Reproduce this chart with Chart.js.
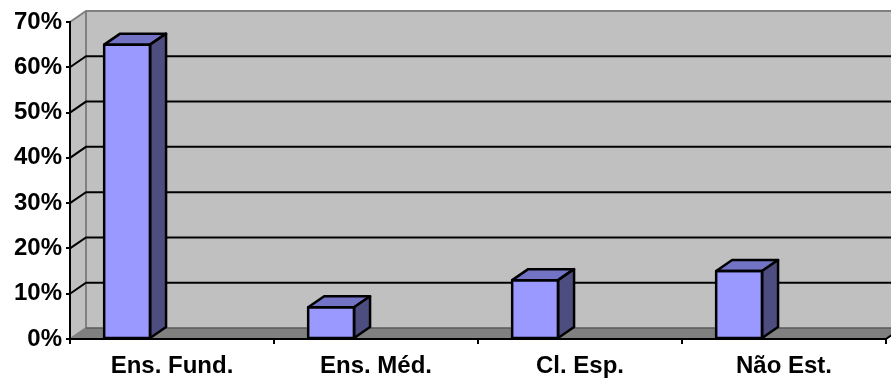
<!DOCTYPE html>
<html>
<head>
<meta charset="utf-8">
<script src="https://cdn.jsdelivr.net/npm/chart.js@4/dist/chart.umd.min.js"></script>
<style>
  html, body { margin: 0; padding: 0; background: #fff; }
  #wrap { width: 891px; height: 379px; position: relative; }
</style>
</head>
<body>
<div id="wrap"><canvas id="c"></canvas></div>
<script>
// Escolaridade – percentual por categoria
const categories = ['Ens. Fund.', 'Ens. Méd.', 'Cl. Esp.', 'Não Est.'];
const percentages = [65, 7, 13, 15];
const yMax = 70;
const yStep = 10;

const FONT = 'Arial, "Liberation Sans", sans-serif';
const DEPTH_X = 16;   // oblique depth of the 3D box
const DEPTH_Y = -11;
const BAR_SHIFT = 0.22; // bars sit left of category centre (fraction of category width)

const colors = {
  wall: '#C0C0C0',
  floor: '#808080',
  edge: '#808080',
  front: '#9999FF',
  top: '#7373C6',
  side: '#4D4D80'
};

const walls3d = {
  id: 'walls3d',
  beforeDraw(chart) {
    const { ctx, chartArea: a, scales: { y } } = chart;
    const L = a.left, R = a.right, T = a.top, B = a.bottom;
    ctx.save();
    // back wall
    ctx.fillStyle = colors.wall;
    ctx.fillRect(L + DEPTH_X, T + DEPTH_Y, R - L + 20, B - T);
    // left side wall
    ctx.beginPath();
    ctx.moveTo(L, B); ctx.lineTo(L, T);
    ctx.lineTo(L + DEPTH_X, T + DEPTH_Y); ctx.lineTo(L + DEPTH_X, B + DEPTH_Y);
    ctx.closePath(); ctx.fill();
    // floor
    ctx.fillStyle = colors.floor;
    ctx.beginPath();
    ctx.moveTo(L, B); ctx.lineTo(R, B);
    ctx.lineTo(R + DEPTH_X, B + DEPTH_Y); ctx.lineTo(L + DEPTH_X, B + DEPTH_Y);
    ctx.closePath(); ctx.fill();

    // wall edges
    ctx.strokeStyle = colors.edge;
    ctx.lineWidth = 2;
    ctx.beginPath();
    ctx.moveTo(L, T); ctx.lineTo(L + DEPTH_X, T + DEPTH_Y); ctx.lineTo(R + 40, T + DEPTH_Y);
    ctx.moveTo(L + DEPTH_X, T + DEPTH_Y); ctx.lineTo(L + DEPTH_X, B + DEPTH_Y);
    ctx.moveTo(L, B); ctx.lineTo(L + DEPTH_X, B + DEPTH_Y);
    ctx.stroke();
    ctx.strokeStyle = '#5a5a5a';
    ctx.lineWidth = 1.5;
    ctx.beginPath();
    ctx.moveTo(L + DEPTH_X, B + DEPTH_Y); ctx.lineTo(R + 40, B + DEPTH_Y);
    ctx.stroke();

    // gridlines on the side and back walls
    ctx.strokeStyle = '#000';
    ctx.lineWidth = 2;
    ctx.beginPath();
    for (let v = yStep; v < yMax; v += yStep) {
      const py = y.getPixelForValue(v);
      ctx.moveTo(L, py);
      ctx.lineTo(L + DEPTH_X, py + DEPTH_Y);
      ctx.lineTo(R + 40, py + DEPTH_Y);
    }
    // right end of the floor
    ctx.moveTo(R, B); ctx.lineTo(R + DEPTH_X, B + DEPTH_Y);
    ctx.stroke();
    ctx.restore();
  }
};

const bars3d = {
  id: 'bars3d',
  beforeDatasetsDraw(chart) {
    const meta = chart.getDatasetMeta(0);
    const cat = chart.scales.x.width / categories.length;
    meta.data.forEach(el => { el.x -= cat * BAR_SHIFT; });
  },
  afterDatasetsDraw(chart) {
    const { ctx } = chart;
    const meta = chart.getDatasetMeta(0);
    const cat = chart.scales.x.width / categories.length;
    ctx.save();
    ctx.strokeStyle = '#000';
    ctx.lineWidth = 2.5;
    ctx.lineJoin = 'round';
    meta.data.forEach(el => {
      const x0 = el.x - el.width / 2, x1 = el.x + el.width / 2;
      const top = el.y, base = el.base;
      // top face
      ctx.fillStyle = colors.top;
      ctx.beginPath();
      ctx.moveTo(x0, top); ctx.lineTo(x1, top);
      ctx.lineTo(x1 + DEPTH_X, top + DEPTH_Y); ctx.lineTo(x0 + DEPTH_X, top + DEPTH_Y);
      ctx.closePath(); ctx.fill(); ctx.stroke();
      // side face
      ctx.fillStyle = colors.side;
      ctx.beginPath();
      ctx.moveTo(x1, top); ctx.lineTo(x1 + DEPTH_X, top + DEPTH_Y);
      ctx.lineTo(x1 + DEPTH_X, base + DEPTH_Y); ctx.lineTo(x1, base);
      ctx.closePath(); ctx.fill(); ctx.stroke();
      // front outline
      ctx.strokeRect(x0, top, x1 - x0, base - top);
      el.x += cat * BAR_SHIFT;
    });
    ctx.restore();
  }
};

new Chart(document.getElementById('c'), {
  type: 'bar',
  data: {
    labels: categories,
    datasets: [{
      data: percentages,
      backgroundColor: colors.front,
      borderColor: '#000',
      borderWidth: 0,
      barPercentage: 0.225,
      categoryPercentage: 1
    }]
  },
  options: {
    responsive: true,
    maintainAspectRatio: false,
    animation: false,
    devicePixelRatio: 1,
    layout: { padding: { top: 22, right: 5, left: 0, bottom: 0 } },
    plugins: { legend: { display: false }, tooltip: { enabled: false } },
    scales: {
      x: {
        type: 'category',
        offset: true,
        grid: { offset: true, drawOnChartArea: false, tickLength: 5, color: '#000', lineWidth: 2 },
        border: { color: '#000', width: 2 },
        ticks: { color: '#000', font: { family: FONT, size: 24, weight: 'bold' }, padding: 8, maxRotation: 0, autoSkip: false },
        afterFit(s) { s.height = 40; }
      },
      y: {
        min: 0,
        max: yMax,
        grid: { drawOnChartArea: false, tickLength: 4, color: '#000', lineWidth: 2 },
        border: { color: '#000', width: 2 },
        ticks: {
          stepSize: yStep,
          color: '#000',
          padding: 4,
          font: { family: FONT, size: 24, weight: 'bold' },
          callback: v => v + '%'
        },
        afterFit(s) { s.width = 70; }
      }
    }
  },
  plugins: [walls3d, bars3d]
});
</script>
</body>
</html>
